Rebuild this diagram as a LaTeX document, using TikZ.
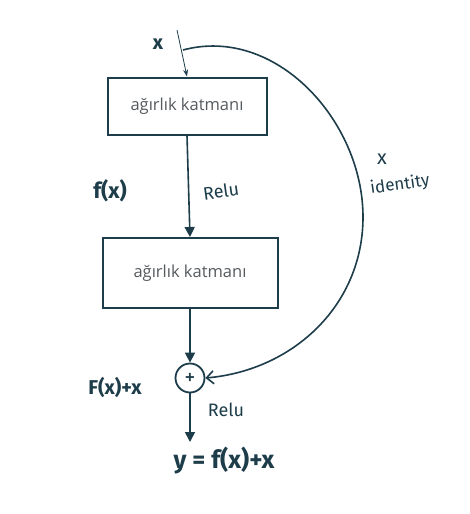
\documentclass[tikz,border=0pt]{standalone}
\usepackage{fontspec}
\setmainfont{Open Sans}
\newfontfamily\hand{Fira Sans}
\usetikzlibrary{arrows.meta}
\definecolor{ink}{HTML}{1E3D4A}
\definecolor{boxtext}{HTML}{555A5E}
\begin{document}
\begin{tikzpicture}[x=1pt,y=-1pt,
  layer/.style={draw=ink,line width=2pt,minimum height=57pt,font=\fontsize{16.5}{18}\selectfont,text=boxtext},
  lbl/.style={text=ink,font=\hand\bfseries\fontsize{20}{22}\selectfont},
  small/.style={font=\hand\fontsize{18}{19}\selectfont},
  conn/.style={draw=ink,line width=1.6pt,-{Triangle[length=10pt,width=10pt]}},
  thin/.style={draw=ink,line width=0.8pt,-{Stealth[length=7pt,width=5pt]}}]
\useasboundingbox[fill=white] (0,0) rectangle (469,514);
\node[layer,minimum width=159pt] (w1) at (187,106) {ağırlık katmanı};
\node[layer,minimum width=175pt,minimum height=70pt] (w2) at (190,273) {ağırlık katmanı};
\node[draw=ink,line width=1.8pt,circle,minimum size=29pt,inner sep=0pt,font=\bfseries\fontsize{17}{18}\selectfont,text=ink] (plus) at (190,378) {+};
\coordinate (in) at (177,30);
\coordinate (out) at (190,442);
\coordinate (start) at (183,50);
\coordinate (right) at (363,217);
\draw[thin] (in) -- (w1.north);
\draw[conn] (w1.south) -- (w2.north);
\draw[conn] (w2.south) -- (plus.north);
\draw[conn] (plus.south) -- (out);
\draw[draw=ink,line width=1.6pt,-{Straight Barb[length=7pt,width=13pt]}] (start) to[out=15,in=90] (right) to[out=-90,in=5] (plus.east);
\node[lbl] (xin) at (158,44) {x};
\node[lbl,font=\hand\bfseries\fontsize{22}{23}\selectfont] (fx) at (110,191) {f(x)};
\node[lbl,small,rotate=8] (relu1) at (221,191) {Relu};
\node[lbl] (fxx) at (115,387) {F(x)+x};
\node[lbl,small] (relu2) at (226,410) {Relu};
\node[lbl,font=\hand\bfseries\fontsize{25}{27}\selectfont] (yout) at (224,461) {y = f(x)+x};
\node[lbl,font=\hand\fontsize{20}{21}\selectfont] (xid) at (382,159) {x};
\node[lbl,rotate=8,font=\hand\fontsize{17}{18}\selectfont] (ident) at (400,185) {identity};
\end{tikzpicture}
\end{document}
